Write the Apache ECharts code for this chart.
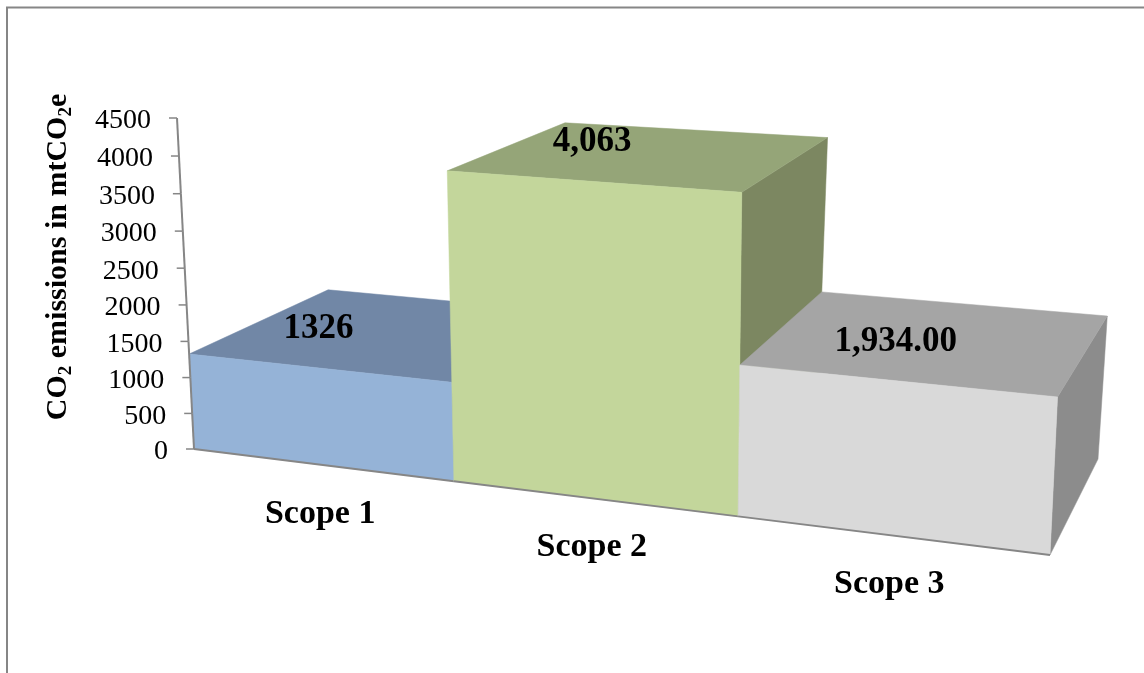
<!DOCTYPE html>
<html>
<head>
<meta charset="utf-8">
<style>html,body{margin:0;padding:0;background:#fff}#chart{width:1144px;height:673px}</style>
<script src="https://cdn.jsdelivr.net/npm/echarts@6/dist/echarts.min.js"></script>
</head>
<body>
<div id="chart"></div>
<script>
const categories = ['Scope 1', 'Scope 2', 'Scope 3'];
const emissions = [1326, 4063, 1934];
const valueLabels = ['1326', '4,063', '1,934.00'];
const axisTicks = [0, 500, 1000, 1500, 2000, 2500, 3000, 3500, 4000, 4500];
const yAxisMax = 4500;

const frontColors = ['#95B3D7', '#C3D69B', '#D9D9D9'];
const topColors = ['#7187A6', '#95A578', '#A5A5A5'];
const sideColors = ['#66799A', '#7C8761', '#8C8C8C'];
const lineColor = '#868686';
const serif = '"Liberation Serif", serif';

// Corners of the plot box as seen by the camera: [bottom-left, bottom-right, top-right, top-left]
const frontPlane = [[194, 449], [1050, 555], [1068, 178], [177, 118]];
const backPlane = [[329, 375], [1098, 459], [1120, 120], [326, 80]];

// Projective map of the unit square onto a quadrilateral
function squareToQuad(q) {
  const [[x0, y0], [x1, y1], [x2, y2], [x3, y3]] = q;
  const dx1 = x1 - x2, dx2 = x3 - x2, sx = x0 - x1 + x2 - x3;
  const dy1 = y1 - y2, dy2 = y3 - y2, sy = y0 - y1 + y2 - y3;
  const det = dx1 * dy2 - dx2 * dy1;
  const g = (sx * dy2 - dx2 * sy) / det;
  const h = (dx1 * sy - sx * dy1) / det;
  const a = x1 - x0 + g * x1, b = x3 - x0 + h * x3;
  const d = y1 - y0 + g * y1, e = y3 - y0 + h * y3;
  return (s, t) => {
    const w = g * s + h * t + 1;
    return [(a * s + b * t + x0) / w, (d * s + e * t + y0) / w];
  };
}
const planes = [squareToQuad(frontPlane), squareToQuad(backPlane)];

// Grid pixel -> unit square -> screen position on the front (0) or back (1) plane
function projector(cs) {
  return (pt, depth) => planes[depth]((pt[0] - cs.x) / cs.width, (cs.y + cs.height - pt[1]) / cs.height);
}

function poly(points, fill) {
  return { type: 'polygon', shape: { points }, style: { fill, stroke: fill, lineWidth: 0.5 } };
}
function stroke(a, b, width) {
  return { type: 'line', shape: { x1: a[0], y1: a[1], x2: b[0], y2: b[1] }, style: { stroke: lineColor, lineWidth: width } };
}
function label(text, p, font, align) {
  return { type: 'text', style: { text, x: p[0], y: p[1], font, fill: '#000', align: align || 'center', verticalAlign: 'middle' } };
}

function renderBar(params, api) {
  const i = api.value(0), v = api.value(1);
  const band = api.size([1, 0])[0];
  const project = projector(params.coordSys);
  const top = api.coord([i, v]), base = api.coord([i, 0]);
  const l = top[0] - band / 2, r = top[0] + band / 2;
  const tl = [l, top[1]], tr = [r, top[1]], bl = [l, base[1]], br = [r, base[1]];
  const fTL = project(tl, 0), fTR = project(tr, 0), fBL = project(bl, 0), fBR = project(br, 0);
  const bTL = project(tl, 1), bTR = project(tr, 1), bBR = project(br, 1);
  const fTC = project([top[0], top[1]], 0), fBC = project([top[0], base[1]], 0);
  return {
    type: 'group',
    children: [
      poly([fTR, bTR, bBR, fBR], sideColors[i]),
      poly([fTL, bTL, bTR, fTR], topColors[i]),
      poly([fTL, fTR, fBR, fBL], frontColors[i]),
      stroke(fBL, fBR, 2),
      label(valueLabels[i], [fTC[0] + 1, fTC[1] - 39], 'bold 35px ' + serif),
      label(categories[i], [fBC[0] - 1, fBC[1] + 49], 'bold 34px ' + serif)
    ]
  };
}

function renderTick(params, api) {
  const v = api.value(1);
  const cs = params.coordSys;
  const project = projector(cs);
  const y = api.coord([0, v])[1];
  const p = project([cs.x, y], 0);
  const children = [
    stroke([p[0] - 8, p[1]], p, 1.5),
    label(String(v), [p[0] - 26, p[1] + 3], '28px ' + serif, 'right')
  ];
  if (v < yAxisMax) {
    const next = project([cs.x, api.coord([0, v + 500])[1]], 0);
    children.push(stroke(p, next, 2));
  }
  return { type: 'group', children };
}

const chart = echarts.init(document.getElementById('chart'), null, { renderer: 'canvas' });
chart.setOption({
  animation: false,
  backgroundColor: '#fff',
  graphic: [
    { type: 'rect', shape: { x: 7, y: 7.5, width: 1300, height: 800 }, style: { fill: 'none', stroke: lineColor, lineWidth: 2 }, silent: true },
    {
      type: 'text', x: 58, y: 257, rotation: Math.PI / 2, silent: true,
      style: {
        text: '{b|CO}{s|2}{b| emissions in mtCO}{s|2}{b|e}',
        align: 'center', verticalAlign: 'middle',
        rich: {
          b: { font: 'bold 30px ' + serif, fill: '#000', verticalAlign: 'middle', lineHeight: 36 },
          s: { font: 'bold 19px ' + serif, fill: '#000', verticalAlign: 'bottom', lineHeight: 36 }
        }
      }
    }
  ],
  grid: { left: 100, right: 100, top: 100, bottom: 100 },
  xAxis: { type: 'category', data: categories, show: false },
  yAxis: { type: 'value', min: 0, max: yAxisMax, interval: 500, show: false },
  series: [
    {
      name: 'CO2 emissions',
      type: 'custom',
      renderItem: renderBar,
      encode: { x: 0, y: 1 },
      clip: false,
      data: emissions.map((v, i) => [i, v])
    },
    {
      name: 'Value axis',
      type: 'custom',
      renderItem: renderTick,
      encode: { x: 0, y: 1 },
      clip: false,
      data: axisTicks.map(t => [0, t])
    }
  ]
});
</script>
</body>
</html>
